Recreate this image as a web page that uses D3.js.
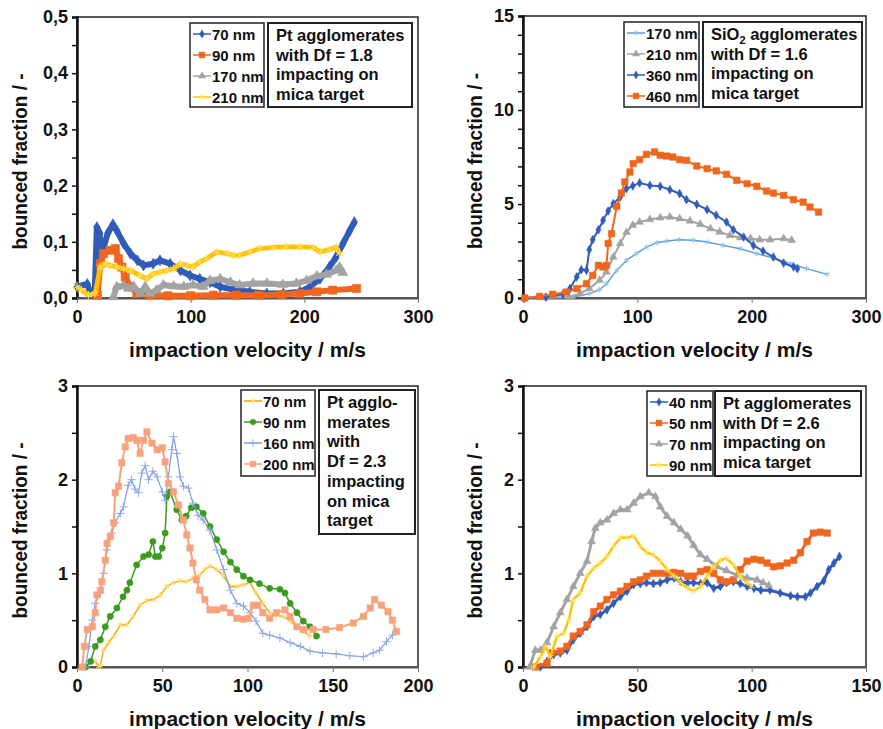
<!DOCTYPE html>
<html>
<head>
<meta charset="utf-8">
<script src="https://cdn.jsdelivr.net/npm/d3@7"></script>
<style>
  body { margin: 0; background: #fff; }
  text { font-family: "Liberation Sans", Arial, sans-serif; font-weight: bold; }
</style>
</head>
<body>
<div id="chart"></div>
<script>
// ---- panel 1: Pt, Df = 1.8 ----
const p1Labels = ['70 nm', '90 nm', '170 nm', '210 nm'];
const p1Info = ['Pt agglomerates', 'with Df = 1.8', 'impacting on', 'mica target'];
const p1YTicks = ['0,0', '0,1', '0,2', '0,3', '0,4', '0,5'];
const p1XTicks = [0, 100, 200, 300];
const p1_70 = [[0,0.02],[9,0.025],[12,0.008],[15.5,0.008],[17.5,0.126],[20,0.115],[21,0.067],[23.4,0.09],[27,0.115],[31.6,0.131],[35,0.12],[41,0.097],[47,0.079],[53,0.067],[58.5,0.058],[67,0.061],[73,0.067],[82,0.061],[91,0.049],[99.5,0.04],[108,0.034],[117,0.028],[126,0.02],[137.5,0.015],[152,0.011],[167,0.008],[181.5,0.008],[196,0.011],[205,0.02],[213.7,0.034],[222,0.055],[228,0.073],[234,0.097],[240,0.12],[244,0.135]];
const p1_90 = [[18,0.005],[20.5,0.061],[23.4,0.079],[29,0.085],[33.7,0.088],[36.6,0.07],[39.5,0.055],[42.4,0.037],[47,0.02],[52.7,0.008],[64,0.005],[80,0.004],[100,0.004],[120,0.005],[140,0.005],[160,0.005],[180,0.006],[196,0.008],[211,0.011],[225,0.014],[246,0.017]];
const p1_170 = [[32,0.002],[35,0.02],[41,0.022],[45,0.017],[50,0.02],[55.6,0.008],[60,0.02],[64,0.008],[70,0.014],[76,0.023],[85,0.021],[94,0.02],[102,0.023],[111,0.02],[117,0.031],[126,0.034],[135,0.028],[143,0.023],[155,0.026],[167,0.026],[181,0.024],[193,0.026],[202,0.031],[211,0.039],[219.5,0.042],[228,0.049],[231,0.055],[234,0.045]];
const p1_210 = [[0,0.02],[4,0.014],[10,0.005],[16,0.008],[20.5,0.055],[25,0.061],[29,0.058],[35,0.055],[41,0.052],[47,0.049],[55.6,0.04],[61.5,0.034],[67,0.043],[73,0.046],[79,0.049],[85,0.052],[91,0.061],[96.6,0.058],[102,0.055],[108,0.064],[114,0.07],[123,0.082],[132,0.079],[137.5,0.076],[143,0.076],[152,0.082],[161,0.088],[173,0.09],[184,0.091],[196,0.091],[208,0.09],[214,0.082],[222,0.086],[228,0.091],[231,0.079]];

// ---- panel 2: SiO2, Df = 1.6 ----
const p2Labels = ['170 nm', '210 nm', '360 nm', '460 nm'];
const p2Info = ['SiO|2| agglomerates', 'with Df = 1.6', 'impacting on', 'mica target'];
const p2YTicks = ['0', '5', '10', '15'];
const p2XTicks = [0, 100, 200, 300];
const p2_170 = [[1.5,0],[20,0],[40,0.02],[44,0.05],[58,0.23],[67,0.44],[73,0.76],[82,1.47],[90.5,2.0],[99,2.36],[108,2.71],[117,2.94],[126,3.03],[137,3.1],[149,3.07],[161,2.98],[175,2.8],[190,2.62],[204.5,2.36],[219,2.13],[234,1.83],[248,1.56],[266,1.26]];
const p2_210 = [[1.5,0],[20,0.02],[40,0.05],[50,0.23],[58,0.5],[67,0.94],[73,1.38],[79,2.18],[85,2.9],[90.5,3.5],[96,3.87],[102,4.04],[111,4.18],[120,4.27],[128.5,4.31],[137,4.22],[146,4.1],[155,3.92],[164,3.69],[172,3.51],[181,3.33],[190,3.21],[199,3.16],[207,3.1],[216,3.1],[228,3.16],[235,3.07]];
const p2_360 = [[1.5,0],[20,0.05],[35,0.2],[41,0.5],[47,1.12],[51,1.5],[55.5,1.47],[58,2.57],[61,3.1],[66,3.63],[70,4.13],[74.5,4.63],[79,5.02],[85,5.37],[90.5,5.82],[96,5.96],[102,6.12],[111,5.99],[120,5.94],[128.5,5.76],[137,5.55],[143,5.23],[152,4.98],[161,4.7],[169,4.4],[178,4.04],[184,3.63],[193,3.24],[201.5,2.8],[210,2.5],[219,2.18],[228,1.86],[236.6,1.65],[240,1.56]];
const p2_460 = [[1.5,0],[14.6,0.09],[26,0.2],[38,0.32],[47,0.5],[55.5,0.76],[61,1.2],[66,1.74],[70,1.65],[73,1.74],[74.5,2.9],[77.4,3.42],[82,4.88],[86,5.58],[89,6.17],[93.5,6.7],[96.4,7.15],[102,7.36],[108,7.64],[115,7.77],[120,7.59],[125.6,7.55],[131,7.5],[137,7.36],[143,7.32],[152,7.02],[161,6.88],[169,6.76],[178,6.58],[187,6.26],[196,6.08],[204.5,5.94],[213,5.69],[219,5.58],[228,5.46],[236.6,5.23],[245,5.1],[251,4.84],[258.5,4.57]];

// ---- panel 3: Pt, Df = 2.3 ----
const p3Labels = ['70 nm', '90 nm', '160 nm', '200 nm'];
const p3Info = ['Pt agglo-', 'merates', 'with', 'Df = 2.3', 'impacting', 'on mica', 'target'];
const p3YTicks = ['0', '1', '2', '3'];
const p3XTicks = [0, 50, 100, 150, 200];
const p3_70 = [[10.7,0.06],[12.7,0.007],[13.7,0.014],[15.6,0.18],[18.5,0.26],[21.5,0.33],[25.4,0.45],[29.3,0.45],[33,0.54],[37,0.66],[41,0.71],[45,0.72],[49,0.77],[52.7,0.86],[56.6,0.9],[60.5,0.92],[64,0.91],[68,0.95],[72,0.98],[75,1.04],[78,1.08],[82,1.04],[86,0.97],[90,0.86],[93.7,0.86],[97.6,0.88],[101.5,0.9],[105,0.79],[109,0.68],[113,0.58],[117,0.55],[121,0.54],[125,0.49],[129,0.43],[132.7,0.38],[136.6,0.33]];
const p3_90 = [[5,0],[8,0.06],[10.7,0.22],[13.7,0.29],[16.6,0.43],[19.5,0.54],[23.4,0.63],[27,0.75],[29.3,0.82],[31,0.9],[35,1.09],[39,1.18],[42,1.2],[44.5,1.34],[46,1.18],[48,1.18],[50,1.27],[51.7,1.43],[52.7,1.82],[54.6,1.87],[58.5,1.68],[61.5,1.57],[64,1.61],[67,1.7],[70,1.71],[74,1.64],[78,1.5],[82,1.36],[86,1.23],[90,1.12],[93.7,1.04],[97.6,0.97],[101.5,0.93],[107,0.89],[113,0.84],[119,0.83],[122,0.79],[125,0.68],[129,0.58],[132.7,0.49],[136.6,0.43],[140.5,0.33]];
const p3_160 = [[5,0],[7,0.22],[9,0.5],[10.7,0.68],[13.7,0.79],[15.6,1.0],[17.6,1.25],[20.5,1.43],[22.4,1.54],[25.4,1.64],[27.3,1.71],[30,1.94],[32,2.0],[34,1.9],[36,1.86],[38,2.07],[40,2.15],[42,2.0],[44.5,2.09],[47,2.03],[50,1.87],[51.7,1.78],[53.6,2.03],[55.6,2.32],[56.6,2.46],[58.5,2.28],[60.5,2.03],[62.4,1.93],[65.4,1.91],[68,1.75],[71,1.62],[74,1.57],[78,1.46],[82,1.25],[86,1.04],[90,0.82],[93.7,0.68],[97.6,0.65],[101.5,0.58],[105,0.49],[109,0.36],[113,0.34],[119,0.31],[125,0.26],[131,0.22],[136.6,0.17],[144,0.15],[152,0.14],[160,0.12],[168,0.11],[173.7,0.15],[177.5,0.18],[181.5,0.27],[185,0.34]];
const p3_200 = [[3,0],[4.3,0.22],[6,0.4],[9,0.43],[10.7,0.58],[11.7,0.77],[13.7,0.82],[14.6,0.91],[16.6,1.14],[17.6,1.32],[19.5,1.39],[21.5,1.54],[22.4,1.86],[24.4,1.93],[26.3,2.18],[28.3,2.35],[30,2.44],[33,2.45],[35,2.42],[37,2.28],[39,2.42],[41,2.51],[44,2.39],[47,2.32],[50,2.34],[51.7,2.19],[53.6,1.96],[56.6,1.87],[59.5,1.73],[62.4,1.57],[64.4,1.41],[66.3,1.27],[68,1.11],[70,0.93],[72,0.82],[75,0.72],[78,0.61],[82,0.61],[86,0.63],[90,0.58],[93.7,0.52],[97.6,0.51],[100.5,0.52],[103.4,0.66],[106,0.66],[109,0.58],[113,0.52],[117,0.58],[122,0.61],[125,0.54],[129,0.43],[132.7,0.4],[138.5,0.4],[146,0.4],[154,0.42],[162,0.47],[168,0.54],[172,0.63],[174.6,0.72],[178.5,0.66],[182.4,0.59],[185,0.5],[187.3,0.38]];

// ---- panel 4: Pt, Df = 2.6 ----
const p4Labels = ['40 nm', '50 nm', '70 nm', '90 nm'];
const p4Info = ['Pt agglomerates', 'with Df = 2.6', 'impacting on', 'mica target'];
const p4YTicks = ['0', '1', '2', '3'];
const p4XTicks = [0, 50, 100, 150];
const p4_40 = [[7.6,0],[10.5,0.06],[13.4,0.13],[16.3,0.15],[19.2,0.18],[22,0.29],[25,0.36],[28,0.43],[31,0.54],[33.8,0.56],[36.7,0.61],[39.6,0.68],[42.6,0.75],[45.5,0.81],[48.4,0.88],[51.3,0.89],[54,0.9],[57,0.89],[60,0.9],[63,0.93],[66,0.95],[69,0.91],[72,0.9],[74.6,0.9],[77.6,0.89],[80.5,0.9],[83.4,0.84],[86.3,0.86],[89,0.9],[92,0.91],[95,0.89],[98,0.86],[101,0.84],[104,0.82],[108,0.82],[112.5,0.79],[117,0.76],[120,0.75],[123.5,0.75],[125.7,0.79],[128.6,0.86],[131.5,0.92],[133.7,1.04],[136,1.11],[138.4,1.18]];
const p4_50 = [[5.4,0],[10.5,0.04],[12.7,0.15],[16.3,0.17],[19.2,0.22],[22,0.33],[25,0.38],[28,0.45],[31,0.59],[33.8,0.65],[36.7,0.72],[39.6,0.77],[42.6,0.81],[45.5,0.86],[48.4,0.91],[51.3,0.93],[54,0.97],[57,1.0],[60,1.0],[63,1.0],[66,1.01],[69,1.0],[72,0.97],[74.6,0.97],[77.6,1.02],[80.5,1.04],[83.4,1.0],[86.3,0.93],[89,0.91],[92,0.93],[95,1.04],[98,1.13],[101,1.15],[104,1.14],[106.7,1.11],[109.6,1.07],[112.5,1.08],[115.5,1.11],[118.4,1.14],[121.3,1.22],[124.2,1.34],[127,1.43],[130,1.44],[133,1.43]];
const p4_70 = [[2.9,0],[5.4,0.18],[7.6,0.18],[10.5,0.26],[13.4,0.43],[16.3,0.58],[19.2,0.72],[22,0.86],[25,1.0],[28,1.13],[30,1.34],[31.6,1.48],[33.8,1.54],[36.7,1.57],[39.6,1.64],[42.6,1.68],[45.5,1.68],[48.4,1.75],[51.3,1.82],[55,1.86],[57.9,1.82],[60,1.71],[63,1.61],[66,1.54],[69,1.47],[72,1.4],[74.6,1.3],[77.6,1.2],[80.5,1.15],[84.9,1.07],[89,1.03],[93.6,0.98],[98,0.95],[102.4,0.93],[105,0.9],[107.5,0.87]];
const p4_90 = [[4.7,0],[7.6,0.11],[9.8,0.22],[12,0.11],[14.9,0.33],[17.8,0.36],[20,0.5],[22,0.72],[25,0.79],[28,0.97],[31,1.06],[33.8,1.11],[36.7,1.18],[39.6,1.29],[42.6,1.38],[45.5,1.38],[48.4,1.4],[51.3,1.29],[54,1.22],[57,1.2],[60,1.13],[63,1.04],[66,0.97],[69,0.9],[72,0.84],[74.6,0.81],[77.6,0.86],[80.5,0.97],[83.4,1.07],[86.3,1.14],[89,1.16],[92,1.09],[95,0.97],[98,0.9],[100,0.86]];

// series styles: line colour, marker colour, marker shape, marker size, line width
const BLUE = '#2f5cb8', ORANGE = '#f0661e', GRAY = '#a3a3a3', YELLOW = '#ffc000';
const sty = {
  blue:   { c: BLUE, m: BLUE, s: 'diamond', r: 22, w: 2 },
  orange: { c: ORANGE, m: ORANGE, s: 'square', r: 42, w: 2 },
  gray:   { c: GRAY, m: GRAY, s: 'triangle', r: 26, w: 2 },
  yellow: { c: YELLOW, m: '#ffe15a', s: 'star', r: 30, w: 1.6 },
  lblue:  { c: '#5b9bd5', m: '#8fc0ec', s: 'star', r: 20, w: 1.4 },
  gold:   { c: '#f5a300', m: '#ffd966', s: 'star', r: 24, w: 1.4 },
  green:  { c: '#3a9a1c', m: '#3a9a1c', s: 'circle', r: 30, w: 1.5 },
  violet: { c: '#7f9be0', m: '#8ea8e8', s: 'plus', r: 24, w: 1.2 },
  salmon: { c: '#f7a27c', m: '#f7a27c', s: 'square', r: 40, w: 2 }
};

const panels = [
  { x0: 77, x1: 418, y0: 17, y1: 298, xMax: 300, yMax: 0.5, yMinor: 0.05, yMajor: 0.1,
    yTicks: p1YTicks, xTicks: p1XTicks, labels: p1Labels, info: p1Info, titleOff: 50,
    series: [[p1_70, sty.blue], [p1_90, sty.orange], [p1_170, sty.gray], [p1_210, sty.yellow]],
    leg: [190, 23, 74, 84], box: [268, 23, 144, 84], wide: 3 },
  { x0: 523, x1: 866, y0: 16, y1: 298, xMax: 300, yMax: 15, yMinor: 1, yMajor: 5,
    yTicks: p2YTicks, xTicks: p2XTicks, labels: p2Labels, info: p2Info, titleOff: 41,
    series: [[p2_170, sty.lblue], [p2_210, sty.gray], [p2_360, sty.blue], [p2_460, sty.orange]],
    leg: [624, 22, 75, 85], box: [703, 22, 159, 85], wide: 1 },
  { x0: 77, x1: 418, y0: 386, y1: 667, xMax: 200, yMax: 3, yMinor: 0.5, yMajor: 1,
    yTicks: p3YTicks, xTicks: p3XTicks, labels: p3Labels, info: p3Info, titleOff: 50,
    series: [[p3_70, sty.gold], [p3_90, sty.green], [p3_160, sty.violet], [p3_200, sty.salmon]],
    leg: [241, 390, 74, 86], box: [319, 390, 96, 144], wide: 1 },
  { x0: 523, x1: 866, y0: 386, y1: 667, xMax: 150, yMax: 3, yMinor: 0.5, yMajor: 1,
    yTicks: p4YTicks, xTicks: p4XTicks, labels: p4Labels, info: p4Info, titleOff: 41,
    series: [[p4_40, sty.blue], [p4_50, sty.orange], [p4_70, sty.gray], [p4_90, sty.yellow]],
    leg: [647, 391, 66, 85], box: [715, 391, 146, 85], wide: 1.5 }
];

const svg = d3.select('#chart').append('svg')
  .attr('width', 883).attr('height', 729);

function symbolFor(name) {
  return { diamond: d3.symbolDiamond, square: d3.symbolSquare, triangle: d3.symbolTriangle,
    circle: d3.symbolCircle, star: d3.symbolAsterisk, plus: d3.symbolPlus }[name];
}

function drawMarker(g, st, x, y, scale) {
  const sym = d3.symbol().type(symbolFor(st.s)).size(st.r * (scale || 1));
  const open = st.s === 'star' || st.s === 'plus';
  g.append('path')
    .attr('d', sym())
    .attr('transform', `translate(${x},${y})`)
    .attr('fill', open ? 'none' : st.m)
    .attr('stroke', st.m)
    .attr('stroke-width', open ? 1 : 0.6);
}

panels.forEach(p => {
  const x = d3.scaleLinear().domain([0, p.xMax]).range([p.x0, p.x1]);
  const y = d3.scaleLinear().domain([0, p.yMax]).range([p.y1, p.y0]);
  const g = svg.append('g');

  // frame
  g.append('rect')
    .attr('x', p.x0).attr('y', p.y0)
    .attr('width', p.x1 - p.x0).attr('height', p.y1 - p.y0)
    .attr('fill', 'none').attr('stroke', '#222').attr('stroke-width', 1.5);

  // y axis with minor ticks
  const nMinor = Math.round(p.yMax / p.yMinor);
  const yVals = d3.range(nMinor + 1).map(i => i * p.yMinor);
  const every = Math.round(p.yMajor / p.yMinor);
  const yAxis = d3.axisLeft(y).tickValues(yVals).tickSizeOuter(0).tickSize(5)
    .tickFormat((d, i) => i % every === 0 ? p.yTicks[i / every] : '');
  const ya = g.append('g').attr('transform', `translate(${p.x0},0)`).call(yAxis);
  ya.select('.domain').attr('stroke', '#111').attr('stroke-width', 2.5);
  ya.selectAll('.tick line').attr('stroke', '#111').attr('stroke-width', 1.5);
  ya.selectAll('.tick text').attr('font-size', 18).attr('x', -9).attr('fill', '#111');

  // x axis
  const xAxis = d3.axisBottom(x).tickValues(p.xTicks).tickSize(5).tickSizeOuter(0);
  const xa = g.append('g').attr('transform', `translate(0,${p.y1})`).call(xAxis);
  xa.select('.domain').attr('stroke', '#555').attr('stroke-width', 2);
  xa.selectAll('.tick line').attr('stroke', '#777').attr('stroke-width', 1);
  xa.selectAll('.tick text').attr('font-size', 18).attr('y', 12).attr('fill', '#111');

  // axis titles
  g.append('text')
    .attr('x', (p.x0 + p.x1) / 2).attr('y', p.y1 + 59)
    .attr('text-anchor', 'middle').attr('font-size', 21).attr('fill', '#111')
    .text('impaction velocity / m/s');
  g.append('text')
    .attr('transform', `translate(${p.x0 - p.titleOff},${(p.y0 + p.y1) / 2 + 4}) rotate(-90)`)
    .attr('text-anchor', 'middle').attr('font-size', 20).attr('fill', '#111')
    .attr('textLength', 176).attr('lengthAdjust', 'spacingAndGlyphs')
    .text('bounced fraction / -');

  // series
  const line = d3.line().x(d => x(d[0])).y(d => y(d[1]));
  p.series.forEach(([data, st]) => {
    const sg = g.append('g');
    sg.append('path').datum(data)
      .attr('d', line)
      .attr('fill', 'none').attr('stroke', st.c)
      .attr('stroke-width', st.w * p.wide).attr('stroke-linejoin', 'round');
    data.forEach(d => drawMarker(sg, st, x(d[0]), y(d[1]), p.wide > 2 ? 1.6 : 1));
  });

  // series legend
  const [lx, ly, lw, lh] = p.leg;
  g.append('rect').attr('x', lx).attr('y', ly).attr('width', lw).attr('height', lh)
    .attr('fill', '#fff').attr('stroke', '#222').attr('stroke-width', 1.5);
  p.labels.forEach((lab, i) => {
    const cy = ly + 11 + i * 21;
    const st = p.series[i][1];
    g.append('line').attr('x1', lx + 3).attr('x2', lx + 21).attr('y1', cy).attr('y2', cy)
      .attr('stroke', st.c).attr('stroke-width', 1.5);
    drawMarker(g, st, lx + 12, cy, 0.8);
    g.append('text').attr('x', lx + 22).attr('y', cy + 5.5)
      .attr('font-size', 15).attr('fill', '#111').text(lab);
  });

  // description box
  const [bx, by, bw, bh] = p.box;
  g.append('rect').attr('x', bx).attr('y', by).attr('width', bw).attr('height', bh)
    .attr('fill', '#fff').attr('stroke', '#222').attr('stroke-width', 2);
  p.info.forEach((t, i) => {
    const tx = g.append('text').attr('x', bx + 8).attr('y', by + 18 + i * 19.7)
      .attr('font-size', 16.5).attr('fill', '#111');
    const parts = t.split('|');
    if (parts.length === 3) {
      tx.append('tspan').text(parts[0]);
      tx.append('tspan').attr('font-size', 11).attr('dy', 4).text(parts[1]);
      tx.append('tspan').attr('dy', -4).text(parts[2]);
    } else {
      tx.text(t);
    }
  });
});
</script>
</body>
</html>
